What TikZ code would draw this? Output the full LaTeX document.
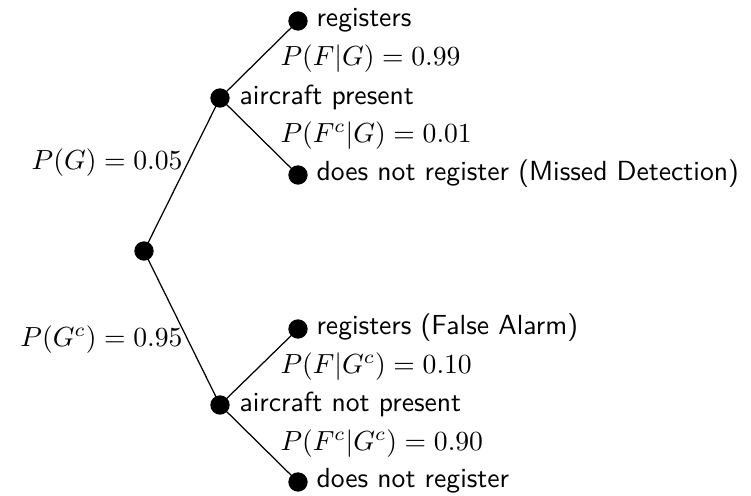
\documentclass[tikz,border=0pt]{standalone}
\begin{document}
\begin{tikzpicture}[x=0.362pt,y=-0.362pt,
  dotnode/.style={circle,fill=black,inner sep=0pt,minimum size=7pt},
  txt/.style={font=\sffamily,anchor=west,inner sep=0pt},
  prob/.style={inner sep=0pt},
  edge/.style={line width=0.45pt}]
\useasboundingbox (0,0) rectangle (751,496);
\node[dotnode] (root) at (144,251) {};
\node[dotnode] (mu) at (220,98) {};
\node[dotnode] (ml) at (220,405) {};
\node[dotnode] (l1) at (298,21) {};
\node[dotnode] (l2) at (298,175) {};
\node[dotnode] (l3) at (298,329) {};
\node[dotnode] (l4) at (298,482) {};
\draw[edge] (root.center) -- (mu.center);
\draw[edge] (root.center) -- (ml.center);
\draw[edge] (mu.center) -- (l1.center);
\draw[edge] (mu.center) -- (l2.center);
\draw[edge] (ml.center) -- (l3.center);
\draw[edge] (ml.center) -- (l4.center);
\node[txt] (t1) at (316,20) {registers};
\node[txt] (tmu) at (239,97) {aircraft present};
\node[txt] (t2) at (316,174) {does not register (Missed Detection)};
\node[txt] (t3) at (316,328) {registers (False Alarm)};
\node[txt] (tml) at (239,404) {aircraft not present};
\node[txt] (t4) at (316,481) {does not register};
\node[prob,anchor=west] (p1) at (280,59) {$P(F|G)=0.99$};
\node[prob,anchor=west] (p2) at (280,136) {$P(F^c|G)=0.01$};
\node[prob,anchor=west] (p3) at (280,367) {$P(F|G^c)=0.10$};
\node[prob,anchor=west] (p4) at (280,444) {$P(F^c|G^c)=0.90$};
\node[prob,anchor=east] (pg) at (183,163) {$P(G)=0.05$};
\node[prob,anchor=east] (pgc) at (183,340) {$P(G^c)=0.95$};
\end{tikzpicture}
\end{document}
